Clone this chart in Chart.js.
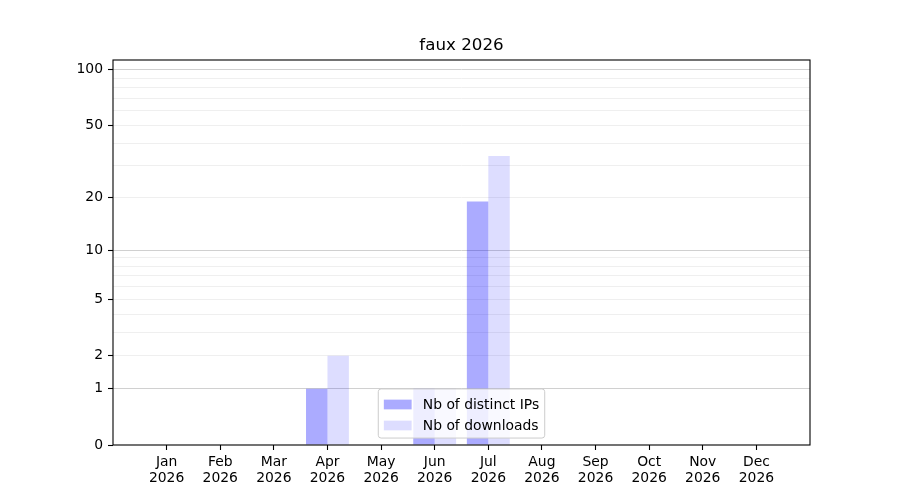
<!DOCTYPE html>
<html>
<head>
<meta charset="utf-8">
<script src="https://cdn.jsdelivr.net/npm/chart.js@4/dist/chart.umd.min.js"></script>
<style>
  body { margin: 0; background: #fff; }
  canvas { display: block; }
</style>
</head>
<body>
<canvas id="chartBar" width="900" height="500"></canvas>
<script>
// data
const months = ['Jan', 'Feb', 'Mar', 'Apr', 'May', 'Jun', 'Jul', 'Aug', 'Sep', 'Oct', 'Nov', 'Dec'];
const yearLabel = '2026';
const distinctIps = [0, 0, 0, 1, 0, 1, 19, 0, 0, 0, 0, 0];
const downloads   = [0, 0, 0, 2, 0, 1, 34, 0, 0, 0, 0, 0];
const seriesLabels = ['Nb of distinct IPs', 'Nb of downloads'];
const chartTitle = 'faux 2026';
const yLabelled = [0, 1, 2, 5, 10, 20, 50, 100];
const yMajorGrid = [1, 10, 100];
const yMinorGrid = [2, 3, 4, 5, 6, 7, 8, 9, 20, 30, 40, 50, 60, 70, 80, 90];
const yMax = 113;

const log1p = (v) => Math.log10(1 + v);

// y scale in log10(1 + x)
class Log1pScale extends Chart.LinearScale {
    determineDataLimits() {
        this.min = 0;
        this.max = this.options.max;
    }
    buildTicks() {
        const vals = [...new Set([...yLabelled, ...yMajorGrid, ...yMinorGrid])].sort((a, b) => a - b);
        return vals.map(v => ({ value: v, major: yMajorGrid.includes(v) }));
    }
    configure() {
        super.configure();
        this._startValue = log1p(this.min);
        this._valueRange = log1p(this.max) - this._startValue;
    }
    getPixelForValue(value) {
        if (value === null || value === undefined) { return NaN; }
        return this.getPixelForDecimal((log1p(value) - this._startValue) / this._valueRange);
    }
    getValueForPixel(pixel) {
        const d = this.getDecimalForPixel(pixel);
        return Math.pow(10, this._startValue + d * this._valueRange) - 1;
    }
}
Log1pScale.id = 'log1p';
Log1pScale.defaults = Chart.LinearScale.defaults;
Chart.register(Log1pScale);

const FONT = 'DejaVu Sans';
Chart.defaults.font.family = FONT;
Chart.defaults.font.size = 13.9;
Chart.defaults.color = '#000';

//frame, title + legend drawn over the plot, like matplotlib
const framePlugin = {
    id: 'frameLegend',
    afterDraw: function(chart) {
        const {ctx, chartArea: a} = chart;
        ctx.save();
        ctx.strokeStyle = '#000';
        ctx.lineWidth = 1.1;
        ctx.strokeRect(a.left, a.top, a.right - a.left, a.bottom - a.top);

        // title centred on the axes
        ctx.font = '16.7px "' + FONT + '"';
        ctx.fillStyle = '#000';
        ctx.textAlign = 'center';
        ctx.textBaseline = 'middle';
        ctx.fillText(chartTitle, (a.left + a.right) / 2, a.top - 14);
        ctx.textAlign = 'left';

        const fs = 13.9;
        ctx.font = fs + 'px "' + FONT + '"';
        const textW = Math.max(...chart.data.datasets.map(d => ctx.measureText(d.label).width));
        const pad = 0.4 * fs, handleW = 2 * fs, handleH = 0.7 * fs, gap = 0.8 * fs, rowH = 21;
        const w = pad + handleW + gap + textW + pad;
        const h = 2 * pad + rowH * chart.data.datasets.length - 4;
        const x = (a.left + a.right) / 2 - w / 2;
        const y = a.bottom - 0.5 * fs - h;

        ctx.beginPath();
        ctx.roundRect(x, y, w, h, 2.8);
        ctx.fillStyle = 'rgba(255,255,255,0.8)';
        ctx.fill();
        ctx.strokeStyle = '#cccccc';
        ctx.lineWidth = 1;
        ctx.stroke();

        chart.data.datasets.forEach((d, i) => {
            const cy = y + pad + 6 + i * rowH + 4;
            ctx.fillStyle = d.backgroundColor;
            ctx.fillRect(x + pad, cy - handleH / 2, handleW, handleH);
            ctx.fillStyle = '#000';
            ctx.fillText(d.label, x + pad + handleW + gap, cy + 1);
        });
        ctx.restore();
    }
};

const config = {
    type: 'bar',
    data: {
        datasets: [{
            label: seriesLabels[0],
            data: distinctIps.map((v, i) => ({ x: i, y: v })),
            backgroundColor: 'rgba(0, 0, 255, 0.33)',
            borderWidth: 0,
            inflateAmount: 0,
            categoryPercentage: 0.8,
            barPercentage: 1
        }, {
            label: seriesLabels[1],
            data: downloads.map((v, i) => ({ x: i, y: v })),
            backgroundColor: 'rgba(0, 0, 255, 0.135)',
            borderWidth: 0,
            inflateAmount: 0,
            categoryPercentage: 0.8,
            barPercentage: 1
        }]
    },
    options: {
        responsive: false,
        animation: false,
        devicePixelRatio: 1,
        layout: { padding: { left: 0, right: 90, top: 60, bottom: 0 } },
        scales: {
            x: {
                type: 'linear',
                min: -1,
                max: 12,
                offset: false,
                afterBuildTicks: (scale) => {
                    scale.ticks = months.map((m, i) => ({ value: i }));
                },
                afterFit: (scale) => { scale.height = 55; },
                border: { display: false },
                grid: {
                    offset: false,
                    color: 'rgba(0,0,0,0)',
                    tickColor: '#000',
                    tickLength: 5,
                    tickWidth: 1.1
                },
                ticks: {
                    autoSkip: false,
                    maxRotation: 0,
                    padding: 4,
                    font: { size: 13.9, lineHeight: 1.15 },
                    callback: (value) => [months[value], yearLabel]
                }
            },
            y: {
                type: 'log1p',
                max: yMax,
                z: 1,
                afterFit: (scale) => { scale.width = 113; },
                border: { display: false },
                grid: {
                    color: (ctx) => {
                        const v = ctx.tick ? ctx.tick.value : null;
                        if (v === 0) return 'rgba(0,0,0,0)';
                        return yMajorGrid.includes(v) ? '#d0d0d0' : '#efefef';
                    },
                    tickColor: (ctx) => {
                        const v = ctx.tick ? ctx.tick.value : null;
                        return yLabelled.includes(v) ? '#000' : 'rgba(0,0,0,0)';
                    },
                    lineWidth: 1,
                    tickLength: 5,
                    tickWidth: 1.1
                },
                ticks: {
                    autoSkip: false,
                    padding: 5,
                    callback: (value) => yLabelled.includes(value) ? String(value) : ''
                }
            }
        },
        plugins: {
            legend: { display: false },
            tooltip: { enabled: false },
            title: { display: false }
        }
    },
    plugins: [framePlugin]
};

const myBarChart = new Chart(document.getElementById('chartBar'), config);
</script>
</body>
</html>
